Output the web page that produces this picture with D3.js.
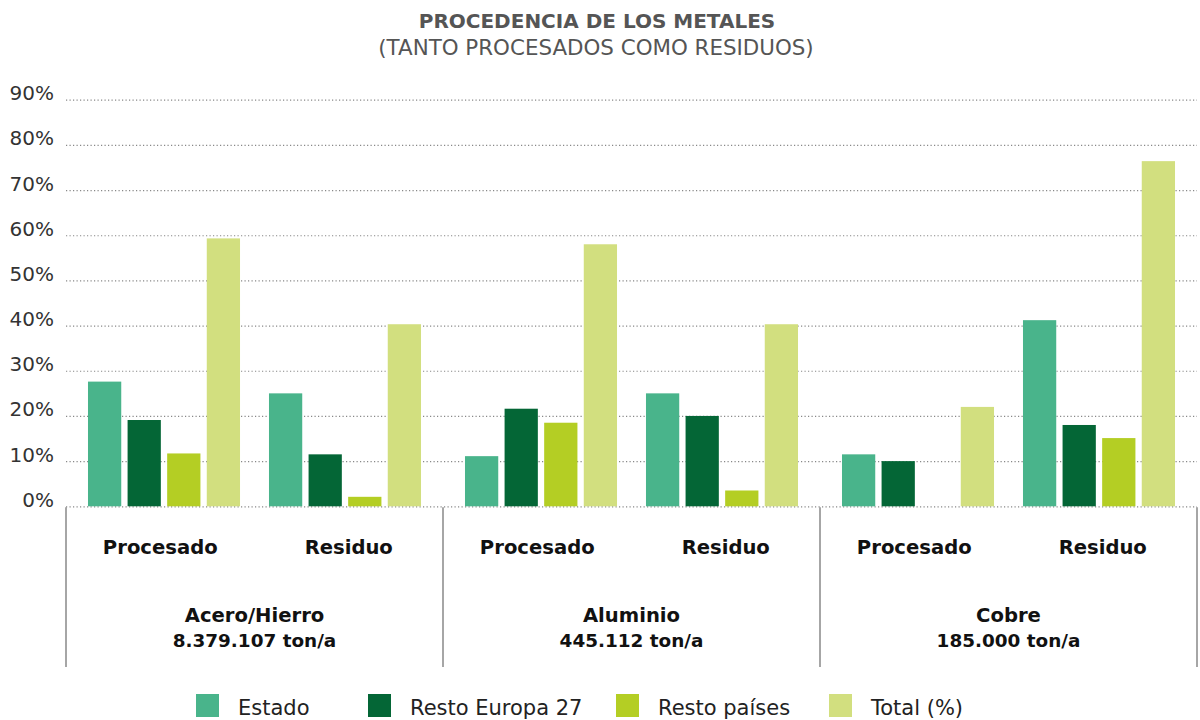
<!DOCTYPE html>
<html>
<head>
<meta charset="utf-8">
<script src="https://cdn.jsdelivr.net/npm/d3@7"></script>
<style>
  html, body { margin: 0; padding: 0; background: #fff; }
  svg { display: block; font-family: "DejaVu Sans", sans-serif; }
</style>
</head>
<body>
<svg id="chart" width="1200" height="720"></svg>
<script>
// ---- data ----
const metals = ["Acero/Hierro", "Aluminio", "Cobre"];
const tonnages = ["8.379.107 ton/a", "445.112 ton/a", "185.000 ton/a"];
const types = ["Procesado", "Residuo"];
const seriesNames = ["Estado", "Resto Europa 27", "Resto países", "Total (%)"];
// order: Acero-Procesado, Acero-Residuo, Aluminio-Procesado, Aluminio-Residuo, Cobre-Procesado, Cobre-Residuo
const estado       = [27.6, 25.0, 11.1, 25.0, 11.5, 41.2];
const restoEuropa  = [19.1, 11.5, 21.6, 20.0, 10.0, 18.0];
const restoPaises  = [11.7,  2.1, 18.5,  3.5,  0.0, 15.1];
const totalPct     = [59.3, 40.3, 58.0, 40.3, 22.0, 76.4];
const yTicks = [0, 10, 20, 30, 40, 50, 60, 70, 80, 90];
const colors = ["#49b48b", "#046636", "#b4ce24", "#d2df7f"];

// ---- build ----
const seriesValues = [estado, restoEuropa, restoPaises, totalPct];
const rows = [];
metals.forEach((m, mi) => types.forEach((t, ti) => {
  const idx = mi * types.length + ti;
  seriesNames.forEach((s, si) => rows.push({ metal: m, type: t, series: s, value: seriesValues[si][idx] }));
}));

const svg = d3.select("#chart");

const plotLeft = 66, plotRight = 1197, y0 = 506.3, yTop = 99.7;
const y = d3.scaleLinear().domain([0, 90]).range([y0, yTop]);
const xMetal = d3.scaleBand().domain(metals).range([plotLeft, plotRight]).padding(0);
const xType = d3.scaleBand().domain(types).range([0, xMetal.bandwidth()]).paddingInner(0.16).paddingOuter(0.1215);
const xTypeLabel = d3.scaleBand().domain(types).range([0, xMetal.bandwidth()]).padding(0);
const xSeries = d3.scaleBand().domain(seriesNames).range([0, xType.bandwidth()]).paddingInner(0.16).paddingOuter(0);
const color = d3.scaleOrdinal().domain(seriesNames).range(colors);

// title
svg.append("text").attr("x", 597).attr("y", 27.5).attr("text-anchor", "middle")
  .attr("font-size", 20).attr("font-weight", "bold").attr("fill", "#555")
  .text("PROCEDENCIA DE LOS METALES");
svg.append("text").attr("x", 596).attr("y", 55).attr("text-anchor", "middle")
  .attr("font-size", 21.4).attr("fill", "#555")
  .text("(TANTO PROCESADOS COMO RESIDUOS)");

// gridlines + y tick labels
const yAxis = d3.axisLeft(y).tickValues(yTicks).tickFormat(d => d + "%")
  .tickSize(-(plotRight - plotLeft)).tickPadding(12);
const gy = svg.append("g").attr("transform", `translate(${plotLeft},0)`).call(yAxis);
gy.select(".domain").remove();
gy.selectAll(".tick line").attr("stroke", "#888").attr("stroke-width", 1.2)
  .attr("stroke-dasharray", "1.2,2.3");
gy.selectAll(".tick text").attr("font-size", 20).attr("fill", "#333")
  .attr("font-family", "DejaVu Sans, sans-serif").attr("dy", 0).attr("x", -12);

// bars
const gBars = svg.append("g");
gBars.selectAll("rect").data(rows.filter(d => d.value > 0)).join("rect")
  .attr("x", d => xMetal(d.metal) + xType(d.type) + xSeries(d.series))
  .attr("width", xSeries.bandwidth())
  .attr("y", d => y(d.value))
  .attr("height", d => y(0) - y(d.value))
  .attr("fill", d => color(d.series));

// group separators
const edges = metals.map(m => xMetal(m)).concat([plotRight]);
svg.append("g").selectAll("line").data(edges).join("line")
  .attr("x1", d => d).attr("x2", d => d)
  .attr("y1", y0 + 1).attr("y2", 667)
  .attr("stroke", "#888").attr("stroke-width", 1.5);

// type labels
const gLab = svg.append("g").attr("font-weight", "bold").attr("fill", "#111").attr("text-anchor", "middle");
metals.forEach(m => types.forEach(t => {
  gLab.append("text").attr("x", xMetal(m) + xTypeLabel(t) + xTypeLabel.bandwidth() / 2)
    .attr("y", 554).attr("font-size", 19.6).text(t);
}));
metals.forEach((m, i) => {
  const cx = xMetal(m) + xMetal.bandwidth() / 2;
  gLab.append("text").attr("x", cx).attr("y", 622).attr("font-size", 19.6).text(m);
  gLab.append("text").attr("x", cx).attr("y", 647).attr("font-size", 18.4).text(tonnages[i]);
});

// legend
const legendX = [196, 368, 616, 829];
const gLeg = svg.append("g");
seriesNames.forEach((s, i) => {
  gLeg.append("rect").attr("x", legendX[i]).attr("y", 694).attr("width", 23).attr("height", 23).attr("fill", color(s));
  gLeg.append("text").attr("x", legendX[i] + 42).attr("y", 715).attr("font-size", 21).attr("fill", "#222").text(s);
});
</script>
</body>
</html>
